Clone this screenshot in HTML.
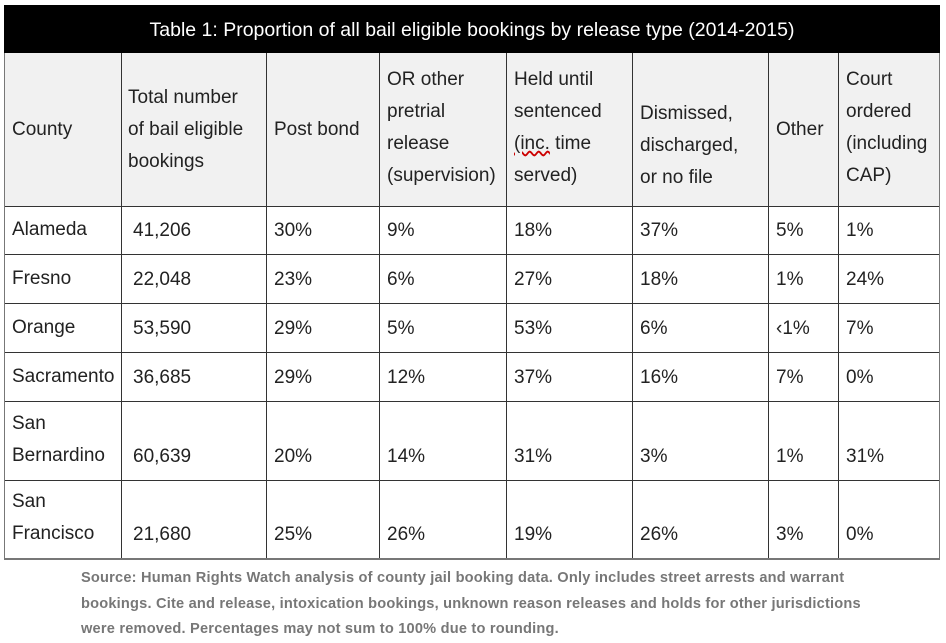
<!DOCTYPE html>
<html><head><meta charset="utf-8"><style>
body{margin:0;width:946px;height:641px;background:#fff;position:relative;overflow:hidden;font-family:"Liberation Sans","DejaVu Sans",sans-serif;}
.t{position:absolute;left:4px;top:5px;width:936px;height:48px;background:#000;color:#fff;font-size:19.5px;line-height:50px;text-align:center;}
.hd{position:absolute;left:4px;top:53px;width:936px;height:153px;background:#f1f1f1;}
.h{position:absolute;background:#333;height:1px;left:4px;width:936px;}
.v{position:absolute;background:#333;width:1px;top:53px;height:505px;}
.c{position:absolute;font-size:19px;color:#222;line-height:32px;}
.f{position:absolute;left:81px;top:566px;font-size:14.6px;letter-spacing:0.2px;color:#777;font-weight:bold;line-height:25.5px;white-space:nowrap;}
</style></head><body>
<div class="t">Table 1: Proportion of all bail eligible bookings by release type (2014-2015)</div>
<div class="hd"></div>
<div class="h" style="top:206px"></div><div class="h" style="top:254px"></div><div class="h" style="top:303px"></div><div class="h" style="top:352px"></div><div class="h" style="top:401px"></div><div class="h" style="top:480px"></div><div class="h" style="top:558px;height:2px;background:#777"></div>
<div class="v" style="left:4px;background:#777"></div><div class="v" style="left:121px"></div><div class="v" style="left:266px"></div><div class="v" style="left:379px"></div><div class="v" style="left:506px"></div><div class="v" style="left:632px"></div><div class="v" style="left:768px"></div><div class="v" style="left:838px"></div><div class="v" style="left:939px;background:#777"></div>
<div class="c" style="left:12px;top:114px">County</div>
<div class="c" style="left:128px;top:82px">Total number<br>of bail eligible<br>bookings</div>
<div class="c" style="left:274px;top:114px">Post bond</div>
<div class="c" style="left:387px;top:64px">OR other<br>pretrial<br>release<br>(supervision)</div>
<div class="c" style="left:514px;top:64px">Held until<br>sentenced<br><u style="text-decoration-color:#c00;text-decoration-style:wavy">(inc.</u> time<br>served)</div>
<div class="c" style="left:640px;top:98px">Dismissed,<br>discharged,<br>or no file</div>
<div class="c" style="left:776px;top:114px">Other</div>
<div class="c" style="left:846px;top:64px">Court<br>ordered<br>(including<br>CAP)</div>

<div class="c" style="left:12px;top:214px">Alameda</div><div class="c" style="left:133px;top:215px">41,206</div><div class="c" style="left:274px;top:215px">30%</div><div class="c" style="left:387px;top:215px">9%</div><div class="c" style="left:514px;top:215px">18%</div><div class="c" style="left:640px;top:215px">37%</div><div class="c" style="left:776px;top:215px">5%</div><div class="c" style="left:846px;top:215px">1%</div>
<div class="c" style="left:12px;top:263px">Fresno</div><div class="c" style="left:133px;top:264px">22,048</div><div class="c" style="left:274px;top:264px">23%</div><div class="c" style="left:387px;top:264px">6%</div><div class="c" style="left:514px;top:264px">27%</div><div class="c" style="left:640px;top:264px">18%</div><div class="c" style="left:776px;top:264px">1%</div><div class="c" style="left:846px;top:264px">24%</div>
<div class="c" style="left:12px;top:312px">Orange</div><div class="c" style="left:133px;top:313px">53,590</div><div class="c" style="left:274px;top:313px">29%</div><div class="c" style="left:387px;top:313px">5%</div><div class="c" style="left:514px;top:313px">53%</div><div class="c" style="left:640px;top:313px">6%</div><div class="c" style="left:776px;top:313px">‹1%</div><div class="c" style="left:846px;top:313px">7%</div>
<div class="c" style="left:12px;top:361px">Sacramento</div><div class="c" style="left:133px;top:362px">36,685</div><div class="c" style="left:274px;top:362px">29%</div><div class="c" style="left:387px;top:362px">12%</div><div class="c" style="left:514px;top:362px">37%</div><div class="c" style="left:640px;top:362px">16%</div><div class="c" style="left:776px;top:362px">7%</div><div class="c" style="left:846px;top:362px">0%</div>
<div class="c" style="left:12px;top:408px">San<br>Bernardino</div><div class="c" style="left:133px;top:441px">60,639</div><div class="c" style="left:274px;top:441px">20%</div><div class="c" style="left:387px;top:441px">14%</div><div class="c" style="left:514px;top:441px">31%</div><div class="c" style="left:640px;top:441px">3%</div><div class="c" style="left:776px;top:441px">1%</div><div class="c" style="left:846px;top:441px">31%</div>
<div class="c" style="left:12px;top:486px">San<br>Francisco</div><div class="c" style="left:133px;top:519px">21,680</div><div class="c" style="left:274px;top:519px">25%</div><div class="c" style="left:387px;top:519px">26%</div><div class="c" style="left:514px;top:519px">19%</div><div class="c" style="left:640px;top:519px">26%</div><div class="c" style="left:776px;top:519px">3%</div><div class="c" style="left:846px;top:519px">0%</div>
<div class="f">Source: Human Rights Watch analysis of county jail booking data. Only includes street arrests and warrant<br>bookings. Cite and release, intoxication bookings, unknown reason releases and holds for other jurisdictions<br>were removed. Percentages may not sum to 100% due to rounding.</div>
</body></html>
